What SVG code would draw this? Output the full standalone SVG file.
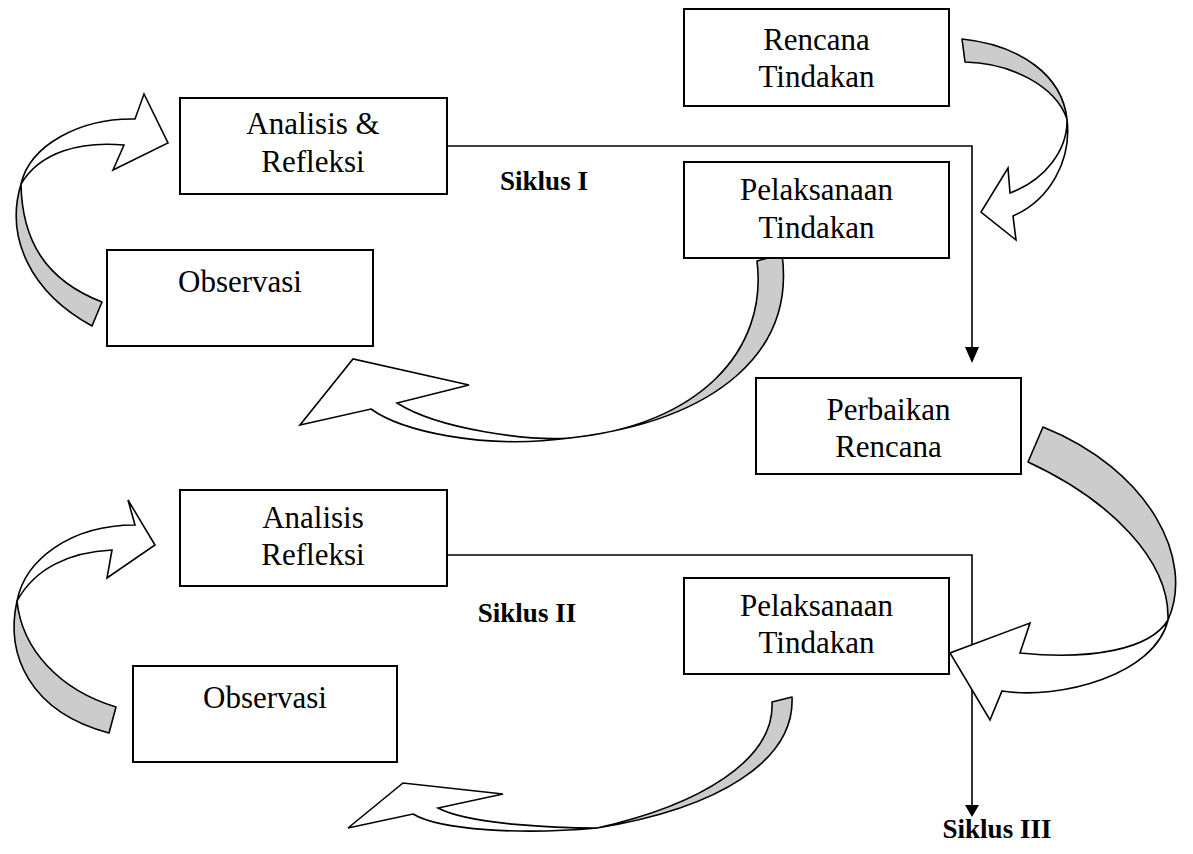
<svg xmlns="http://www.w3.org/2000/svg" width="1193" height="854" viewBox="0 0 1193 854">
<style>
.box{fill:#fff;stroke:#000;stroke-width:2}
.t{font-family:"Liberation Serif","Times New Roman",serif;font-size:31px;text-anchor:middle;fill:#000}
.s{font-family:"Liberation Serif","Times New Roman",serif;font-size:27px;font-weight:bold;text-anchor:middle;fill:#000}
.g{fill:#cccccc;stroke:#000;stroke-width:1.6;stroke-linejoin:round}
.w{fill:#fff;stroke:#000;stroke-width:1.6;stroke-linejoin:miter}
.ln{fill:none;stroke:#000;stroke-width:1.6}
</style>
<rect width="1193" height="854" fill="#fff"/>
<g id="connectors">
<path class="ln" d="M447,146 H972 V349"/>
<polygon points="965,347 979,347 972,363" fill="#000"/>
<path class="ln" d="M447,555 H972 V806"/>
<polygon points="965,805 979,805 972,817" fill="#000"/>
</g>
<g id="curved-arrows">
<g id="arrowA">
<path class="g" d="M21,184 C5,237 30,292 92,326 L102,302 C45,280 22,240 21,184 Z"/>
<path class="w" d="M21,184 C30,145 80,118 135,119 L144,94 L168,143 L113,170 L124,145 C80,141 40,152 21,184 Z"/>
</g>
<g id="arrowB">
<path class="g" d="M1067,119 C1062,75 1020,45 962,39 L965,62 C1010,63 1055,85 1067,119 Z"/>
<path class="w" d="M1067,119 C1068,150 1045,180 1010,193 L1008,168 L981,212 L1016,240 L1013,216 C1050,200 1072,160 1067,119 Z"/>
</g>
<g id="arrowC">
<path class="g" d="M570,438 C700,425 768,350 757,261 L782,254 C795,350 720,420 570,438 Z"/>
<path class="w" d="M570,438 C530,441 440,430 397,403 L469,385 L353,359 L300,425 L371,409 C400,430 480,450 570,438 Z"/>
</g>
<g id="arrowD">
<path class="g" d="M1168,620 C1195,560 1150,470 1043,427 L1028,462 C1110,500 1170,560 1168,620 Z"/>
<path class="w" d="M1168,620 C1150,650 1090,660 1020,653 L1030,623 L950,653 L990,720 L1002,691 C1060,700 1155,675 1168,620 Z"/>
</g>
<g id="arrowE">
<path class="g" d="M17,601 C5,655 30,712 109,733 L116,707 C60,690 22,650 17,601 Z"/>
<path class="w" d="M17,601 C25,560 70,525 135,525 L128,500 L155,545 L107,578 L112,550 C70,552 35,568 17,601 Z"/>
</g>
<g id="arrowF">
<path class="g" d="M597,828 C700,805 775,760 772,702 L792,697 C795,760 720,808 597,828 Z"/>
<path class="w" d="M597,828 C560,828 470,825 438,808 L503,794 L403,783 L348,828 L413,814 C440,830 520,835 597,828 Z"/>
</g>
</g>
<g id="rencana-tindakan">
<rect class="box" x="684" y="9" width="265" height="97"/>
<text class="t" x="816.5" y="50">Rencana</text>
<text class="t" x="816.5" y="87">Tindakan</text>
</g>
<g id="analisis-refleksi-1">
<rect class="box" x="180" y="98" width="267" height="96"/>
<text class="t" x="313" y="134">Analisis &amp;</text>
<text class="t" x="313" y="172">Refleksi</text>
</g>
<g id="pelaksanaan-tindakan-1">
<rect class="box" x="684" y="162" width="265" height="96"/>
<text class="t" x="816.5" y="200">Pelaksanaan</text>
<text class="t" x="816.5" y="238">Tindakan</text>
</g>
<g id="observasi-1">
<rect class="box" x="107" y="250" width="266" height="96"/>
<text class="t" x="240" y="292">Observasi</text>
</g>
<g id="perbaikan-rencana">
<rect class="box" x="756" y="378" width="265" height="96"/>
<text class="t" x="888.5" y="420">Perbaikan</text>
<text class="t" x="888.5" y="457">Rencana</text>
</g>
<g id="analisis-refleksi-2">
<rect class="box" x="180" y="490" width="267" height="96"/>
<text class="t" x="313" y="528">Analisis</text>
<text class="t" x="313" y="565">Refleksi</text>
</g>
<g id="pelaksanaan-tindakan-2">
<rect class="box" x="684" y="578" width="265" height="96"/>
<text class="t" x="816.5" y="616">Pelaksanaan</text>
<text class="t" x="816.5" y="653">Tindakan</text>
</g>
<g id="observasi-2">
<rect class="box" x="133" y="666" width="264" height="96"/>
<text class="t" x="265" y="708">Observasi</text>
</g>
<g id="labels">
<text class="s" x="544" y="190">Siklus I</text>
<text class="s" x="527" y="622">Siklus II</text>
<text class="s" x="997" y="838">Siklus III</text>
</g>
</svg>
